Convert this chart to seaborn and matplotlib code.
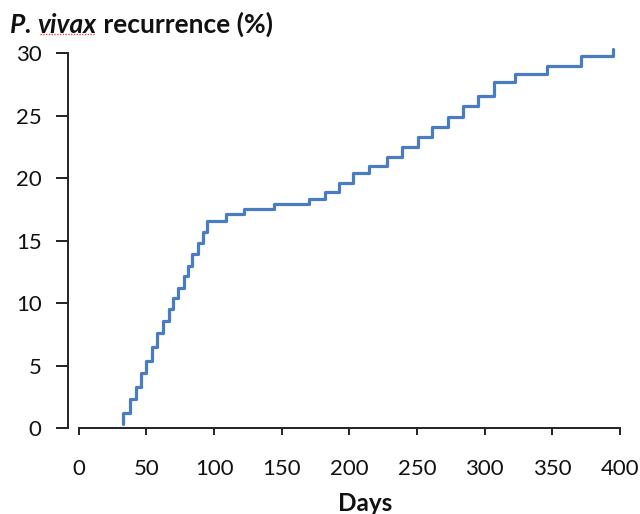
import matplotlib
matplotlib.use("Agg")
import matplotlib.pyplot as plt
import seaborn as sns
import pandas as pd
from matplotlib.lines import Line2D

# Cumulative P. vivax recurrence (step curve)
days = [33, 33, 38, 42, 46, 50, 54, 58, 62, 66.5,
        70, 73, 77.5, 81, 84, 88, 91.5, 95, 109, 122.5,
        144, 170, 182, 192.5, 203, 214.5, 228, 239, 250.5, 261.5,
        273, 284, 295.5, 307, 322.5, 346, 371, 395]
recurrence = [0.3, 1.2, 2.3, 3.3, 4.4, 5.4, 6.5, 7.6, 8.6, 9.5,
              10.4, 11.2, 12.2, 13.0, 13.9, 14.8, 15.7, 16.6, 17.1, 17.5,
              17.9, 18.3, 18.9, 19.6, 20.4, 21.0, 21.7, 22.5, 23.3, 24.1,
              24.9, 25.8, 26.6, 27.7, 28.3, 29.0, 29.8, 30.3]
x_ticks = [0, 50, 100, 150, 200, 250, 300, 350, 400]
y_ticks = [0, 5, 10, 15, 20, 25, 30]

data = pd.DataFrame({"Days": days, "Recurrence": recurrence})

sns.set_style("white")
plt.rcParams["font.family"] = ["Lato", "DejaVu Sans"]

fig = plt.figure(figsize=(6.4, 5.14), dpi=100)
ax = fig.add_axes([0.10625, 0.1673, 0.8664, 0.7417])

sns.lineplot(data=data, x="Days", y="Recurrence", ax=ax,
             estimator=None, sort=False, drawstyle="steps-post",
             color="#4a7cc2", linewidth=2.3, clip_on=False)

ax.set_xlim(-8, 402)
ax.set_ylim(0, 30.5)
ax.set_xticks(x_ticks)
ax.set_yticks(y_ticks)

for side in ["top", "right"]:
    ax.spines[side].set_visible(False)
ax.spines["left"].set_bounds(0, 30)
ax.spines["bottom"].set_bounds(0, 400)
for side in ["left", "bottom"]:
    ax.spines[side].set_linewidth(1.4)
    ax.spines[side].set_color("#222222")

ax.tick_params(axis="y", direction="out", length=9, width=1.4, color="#222222",
               pad=10, labelsize=16, labelcolor="#111111", left=True)
ax.tick_params(axis="x", direction="out", length=5, width=1.4, color="#222222",
               pad=17, labelsize=16, labelcolor="#111111", bottom=True)

ax.set_xlabel("Days", fontsize=17.5, fontweight="bold", color="#111111")
ax.xaxis.set_label_coords(0.535, -0.168)
ax.set_ylabel("")

# title with italic species name (and the spell-check underline under "vivax")
t1 = fig.text(0.016, 0.935, "P. ", fontsize=19, fontweight="bold",
              fontstyle="italic", color="#111111", va="baseline")
t2 = ax.annotate("vivax", xy=(1, 0), xycoords=t1, va="bottom",
                 fontsize=19, fontweight="bold", fontstyle="italic",
                 color="#111111", annotation_clip=False)
ax.annotate(" recurrence (%)", xy=(1, 0), xycoords=t2, va="bottom",
            fontsize=19, fontweight="bold", color="#111111",
            annotation_clip=False)

fig.canvas.draw()
bb = t2.get_window_extent().transformed(fig.transFigure.inverted())
fig.add_artist(Line2D([bb.x0 + 0.003, bb.x1 - 0.003], [bb.y0 + 0.006] * 2,
                      transform=fig.transFigure, color="#e05050",
                      linewidth=1.0, linestyle=(0, (1, 1))))

fig.savefig("out.png", dpi=100)
